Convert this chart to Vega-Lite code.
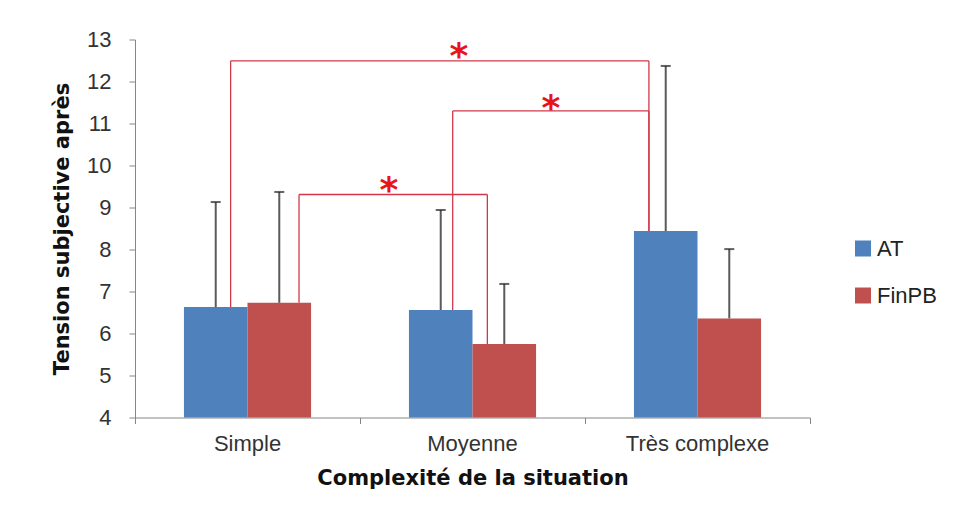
{
  "$schema": "https://vega.github.io/schema/vega-lite/v6.json",
  "width": 675,
  "height": 378,
  "autosize": "none",
  "padding": {"left": 135, "top": 39.5, "right": 153, "bottom": 100.5},
  "background": "white",
  "config": {
    "view": {"stroke": null},
    "font": "Liberation Sans",
    "axis": {"grid": false, "domainColor": "#868686", "tickColor": "#868686", "tickSize": 6, "labelColor": "#333333", "labelFontSize": 22, "titleColor": "#111111", "titleFontSize": 21, "titleFontWeight": "bold", "labelFont": "Liberation Sans", "titleFont": "DejaVu Sans"}
  },
  "datasets": {
    "barres": [
      {"situation": "Simple", "groupe": "AT", "moyenne": 6.63, "haut": 9.13},
      {"situation": "Simple", "groupe": "FinPB", "moyenne": 6.73, "haut": 9.37},
      {"situation": "Moyenne", "groupe": "AT", "moyenne": 6.56, "haut": 8.94},
      {"situation": "Moyenne", "groupe": "FinPB", "moyenne": 5.75, "haut": 7.18},
      {"situation": "Très complexe", "groupe": "AT", "moyenne": 8.44, "haut": 12.37},
      {"situation": "Très complexe", "groupe": "FinPB", "moyenne": 6.36, "haut": 8.01}
    ],
    "comparaisons": [
      {"x_gauche": 0.425, "x_droite": 2.284, "y_haut": 12.49, "y_gauche": 6.63, "y_droite": 8.44, "x_etoile": 1.44, "y_etoile": 12.8, "label": "*"},
      {"x_gauche": 1.412, "x_droite": 2.284, "y_haut": 11.3, "y_gauche": 6.56, "y_droite": 8.44, "x_etoile": 1.849, "y_etoile": 11.56, "label": "*"},
      {"x_gauche": 0.729, "x_droite": 1.566, "y_haut": 9.31, "y_gauche": 6.73, "y_droite": 5.75, "x_etoile": 1.129, "y_etoile": 9.6, "label": "*"}
    ]
  },
  "layer": [
    {
      "data": {"name": "barres"},
      "encoding": {
        "x": {
          "field": "situation", "type": "nominal",
          "sort": ["Simple", "Moyenne", "Très complexe"],
          "scale": {"paddingInner": 0.435, "paddingOuter": 0.2175},
          "axis": {"title": "Complexité de la situation", "labelAngle": 0, "ticks": false, "domain": false, "labelPadding": 16, "titlePadding": 13}
        },
        "xOffset": {"field": "groupe", "type": "nominal", "sort": ["AT", "FinPB"], "scale": {"paddingInner": 0}}
      },
      "layer": [
        {
          "mark": {"type": "bar"},
          "encoding": {
            "y": {
              "field": "moyenne", "type": "quantitative",
              "scale": {"domain": [4, 13], "nice": false, "zero": false},
              "axis": {"title": "Tension subjective après", "values": [4, 5, 6, 7, 8, 9, 10, 11, 12, 13], "labelPadding": 18, "titlePadding": 14}
            },
            "y2": {"datum": 4},
            "color": {
              "field": "groupe", "type": "nominal",
              "scale": {"domain": ["AT", "FinPB"], "range": ["#4F81BD", "#C0504D"]},
              "legend": {"title": null, "orient": "none", "legendX": 717, "legendY": 198, "symbolType": "square", "symbolSize": 256, "symbolStrokeWidth": 0, "labelFontSize": 22, "labelColor": "#222222", "labelOffset": 3, "rowPadding": 25, "padding": 0}
            }
          }
        },
        {
          "mark": {"type": "rule", "color": "#5a5a5a", "strokeWidth": 2},
          "encoding": {
            "y": {"field": "moyenne", "type": "quantitative"},
            "y2": {"field": "haut"}
          }
        },
        {
          "mark": {"type": "tick", "color": "#222222", "thickness": 2, "size": 10},
          "encoding": {
            "y": {"field": "haut", "type": "quantitative"}
          }
        }
      ]
    },
    {
      "data": {"name": "comparaisons"},
      "layer": [
        {
          "mark": {"type": "rule", "color": "#d0384a", "strokeWidth": 1.3},
          "encoding": {
            "x": {
              "field": "x_gauche", "type": "quantitative",
              "scale": {"domain": [0, 3], "nice": false, "zero": false},
              "axis": {"orient": "bottom", "values": [0, 1, 2, 3], "labels": false, "title": null}
            },
            "y": {"field": "y_gauche", "type": "quantitative"},
            "y2": {"field": "y_haut"}
          }
        },
        {
          "mark": {"type": "rule", "color": "#d0384a", "strokeWidth": 1.3},
          "encoding": {
            "x": {"field": "x_droite", "type": "quantitative"},
            "y": {"field": "y_droite", "type": "quantitative"},
            "y2": {"field": "y_haut"}
          }
        },
        {
          "mark": {"type": "rule", "color": "#d0384a", "strokeWidth": 1.3},
          "encoding": {
            "x": {"field": "x_gauche", "type": "quantitative"},
            "x2": {"field": "x_droite"},
            "y": {"field": "y_haut", "type": "quantitative"}
          }
        },
        {
          "mark": {"type": "text", "color": "#e8141c", "fontSize": 36, "font": "DejaVu Sans", "fontWeight": "bold", "baseline": "middle", "align": "center", "dy": 9},
          "encoding": {
            "x": {"field": "x_etoile", "type": "quantitative"},
            "y": {"field": "y_etoile", "type": "quantitative"},
            "text": {"field": "label"}
          }
        }
      ]
    }
  ],
  "resolve": {"scale": {"x": "independent"}, "axis": {"x": "independent"}}
}
